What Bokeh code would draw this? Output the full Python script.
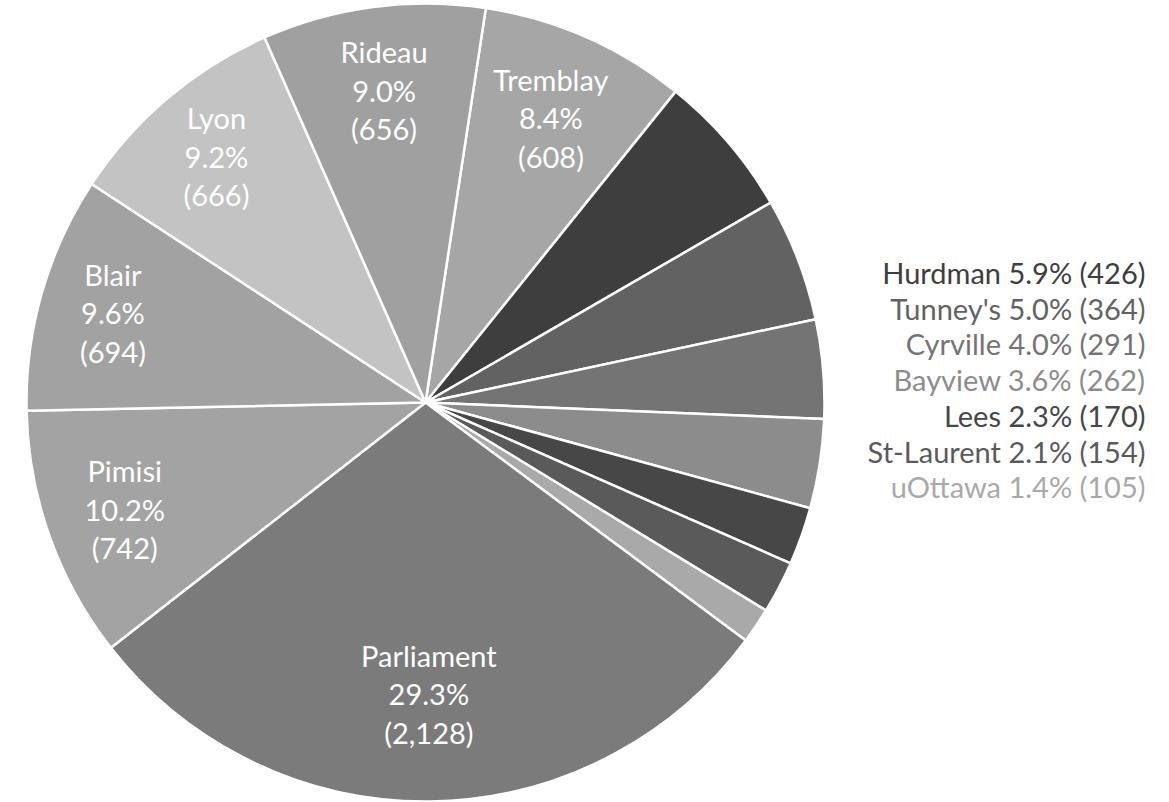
import math
from bokeh.plotting import figure
from bokeh.models import ColumnDataSource, Range1d
from bokeh.core.properties import value
from bokeh.embed import file_html
from bokeh.resources import INLINE

# ---- data (clockwise order, starting just right of 12 o'clock) ----
stations = ["Tremblay", "Hurdman", "Tunney's", "Cyrville", "Bayview", "Lees",
            "St-Laurent", "uOttawa", "Parliament", "Pimisi", "Blair", "Lyon", "Rideau"]
counts = [608, 426, 364, 291, 262, 170, 154, 105, 2128, 742, 694, 666, 656]
colors = ["#a6a6a6", "#3e3e3e", "#626262", "#747474", "#8c8c8c", "#474747",
          "#5a5a5a", "#a9a9a9", "#7b7b7b", "#a3a3a3", "#a2a2a2", "#c3c3c3", "#a0a0a0"]
inside = ["Tremblay", "Parliament", "Pimisi", "Blair", "Lyon", "Rideau"]
legend_items = ["Hurdman", "Tunney's", "Cyrville", "Bayview", "Lees", "St-Laurent", "uOttawa"]

# ---- layout / style ----
W, H = 1169, 802
CX, CY, R = 425, 400, 399
START_DEG = 8.7           # clockwise offset of first slice from 12 o'clock
FONT = "Lato"
FS = "29px"
LINE_GAP = 38.5
LEG_X, LEG_Y0, LEG_STEP = 1145, H - 272, 35.7
LABEL_FRAC = {"Tremblay": 0.78, "Parliament": 0.73, "Pimisi": 0.80,
              "Blair": 0.815, "Lyon": 0.81, "Rideau": 0.79}

total = float(sum(counts))
starts, ends, mids = [], [], []
acc = START_DEG
for c in counts:
    span = c / total * 360.0
    t1, t2 = acc, acc + span
    starts.append(math.radians(90 - t2))
    ends.append(math.radians(90 - t1))
    mids.append((t1 + t2) / 2.0)
    acc = t2

src = ColumnDataSource(dict(start=starts, end=ends, color=colors,
                            x=[CX] * len(counts), y=[CY] * len(counts)))

p = figure(width=W, height=H, output_backend="svg", toolbar_location=None,
           x_range=Range1d(0, W), y_range=Range1d(0, H), min_border=0)
p.axis.visible = False
p.grid.visible = False
p.outline_line_color = None
p.background_fill_color = "white"
p.border_fill_color = "white"

p.wedge(x="x", y="y", radius=R, start_angle="start", end_angle="end",
        fill_color="color", line_color="white", line_width=2.5, source=src)

# inside labels (three lines each)
lx, ly, lt = [], [], []
for name in inside:
    i = stations.index(name)
    th = math.radians(mids[i])
    rr = LABEL_FRAC[name] * R
    x0 = CX + rr * math.sin(th)
    y0 = CY + rr * math.cos(th)
    pct = counts[i] / total * 100
    lines = [name, f"{pct:.1f}%", f"({counts[i]:,})"]
    for k, t in enumerate(lines):
        lx.append(x0)
        ly.append(y0 + (1 - k) * LINE_GAP)
        lt.append(t)
p.text(x=lx, y=ly, text=lt, text_color="white", text_font=value(FONT),
       text_font_size=FS, text_align="center", text_baseline="middle")

# right-side labels for small slices
gx, gy, gt, gc = [], [], [], []
for k, name in enumerate(legend_items):
    i = stations.index(name)
    pct = counts[i] / total * 100
    gx.append(LEG_X)
    gy.append(LEG_Y0 - k * LEG_STEP)
    gt.append(f"{name} {pct:.1f}% ({counts[i]:,})")
    gc.append(colors[i])
p.text(x=gx, y=gy, text=gt, text_color=gc, text_font=value(FONT),
       text_font_size=FS, text_align="right", text_baseline="middle")

open("out.html", "w").write(file_html(p, INLINE))
